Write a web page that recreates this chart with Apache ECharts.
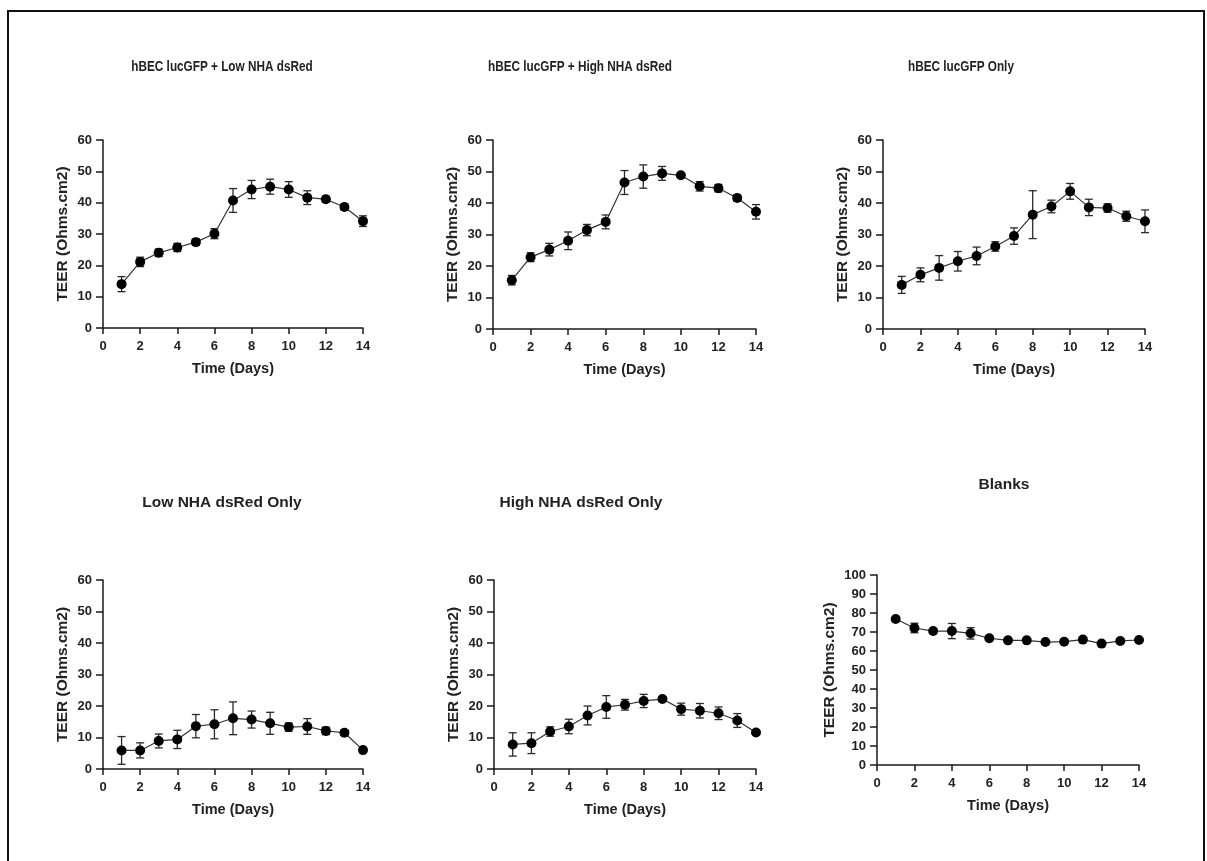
<!DOCTYPE html>
<html>
<head>
<meta charset="utf-8">
<script src="https://cdn.jsdelivr.net/npm/echarts@6/dist/echarts.min.js"></script>
<style>
html,body{margin:0;padding:0;background:#fff;}
#chart{width:1207px;height:861px;}
</style>
</head>
<body>
<div id="chart"></div>
<script>
const days = [1,2,3,4,5,6,7,8,9,10,11,12,13,14];
const titles = ['hBEC lucGFP + Low NHA dsRed','hBEC lucGFP + High NHA dsRed','hBEC lucGFP Only','Low NHA dsRed Only','High NHA dsRed Only','Blanks'];
const xTicks = [0,2,4,6,8,10,12,14];
const yMax = [60,60,60,60,60,100];

const lowCoMean  = [14.0,21.1,24.0,25.7,27.4,30.1,40.7,44.2,45.1,44.2,41.6,41.1,38.6,34.1];
const lowCoErr   = [2.4,1.5,1.2,1.3,1.0,1.6,3.8,2.9,2.4,2.5,2.2,1.0,1.0,1.7];
const highCoMean = [15.5,22.8,25.2,28.0,31.4,34.0,46.5,48.4,49.4,48.8,45.3,44.7,41.6,37.2];
const highCoErr  = [1.5,1.4,2.0,2.8,1.8,2.2,3.8,3.7,2.2,0.5,1.5,1.2,1.0,2.3];
const hbecMean   = [14.0,17.2,19.4,21.5,23.2,26.2,29.5,36.3,38.9,43.7,38.6,38.4,35.8,34.2];
const hbecErr    = [2.7,2.2,3.9,3.1,2.8,1.5,2.6,7.6,2.0,2.5,2.6,1.3,1.6,3.6];
const lowMean    = [5.9,5.9,8.9,9.4,13.6,14.2,16.1,15.7,14.5,13.3,13.5,12.1,11.5,6.0];
const lowErr     = [4.4,2.4,2.2,2.9,3.7,4.6,5.2,2.7,3.5,1.3,2.5,1.2,0.8,0.3];
const highMean   = [7.8,8.2,11.9,13.5,17.0,19.7,20.4,21.6,22.2,19.0,18.5,17.7,15.4,11.6];
const highErr    = [3.7,3.3,1.5,2.3,3.0,3.6,1.7,2.1,0.5,1.9,2.3,2.0,2.2,0.5];
const blankMean  = [76.8,72.1,70.5,70.5,69.3,66.7,65.6,65.6,64.7,64.9,66.0,63.9,65.3,65.8];
const blankErr   = [0.8,2.5,1.0,4.0,3.0,0.8,0.6,0.6,0.6,0.6,0.6,0.6,0.6,0.6];

const means = [lowCoMean, highCoMean, hbecMean, lowMean, highMean, blankMean];
const errs  = [lowCoErr, highCoErr, hbecErr, lowErr, highErr, blankErr];

const FONT = '"Liberation Sans", Arial, sans-serif';
const grids = [
  {left:103, top:140, width:260, height:188},
  {left:493, top:140, width:263, height:189},
  {left:883, top:140, width:262, height:189},
  {left:103, top:580, width:260, height:189},
  {left:494, top:580, width:262, height:189},
  {left:877, top:575, width:262, height:190}
];
const yNameGap = [32, 32, 32, 32, 32, 39];
// title placement: centre x, centre y, font size, horizontal squeeze
const titlePos = [
  {x:222, y:67, size:14, sx:0.84}, {x:580, y:67, size:14, sx:0.84}, {x:961, y:67, size:14, sx:0.84},
  {x:222, y:503, size:15.5, sx:1}, {x:581, y:503, size:15.5, sx:1}, {x:1004, y:485, size:15.5, sx:1}
];

const lineCol = '#1a1a1a';
const labelStyle = {color:'#222', fontFamily:FONT, fontWeight:'bold', fontSize:13};

const xAxes = [], yAxes = [], series = [], titleGraphics = [];
grids.forEach((g,i) => {
  xAxes.push({gridIndex:i, type:'value', min:0, max:14, interval:2,
    axisLine:{show:true, onZero:false, lineStyle:{color:lineCol, width:1.5}},
    axisTick:{show:true, inside:false, length:6, lineStyle:{color:lineCol, width:1.5}},
    axisLabel:Object.assign({margin:12}, labelStyle),
    splitLine:{show:false},
    name:'Time (Days)', nameLocation:'middle', nameGap:33, nameMoveOverlap:false,
    nameTextStyle:{color:'#222', fontFamily:FONT, fontWeight:'bold', fontSize:14.5}});
  yAxes.push({gridIndex:i, type:'value', min:0, max:yMax[i], interval:10,
    axisLine:{show:true, onZero:false, lineStyle:{color:lineCol, width:1.5}},
    axisTick:{show:true, inside:false, length:7, lineStyle:{color:lineCol, width:1.5}},
    axisLabel:Object.assign({margin:11}, labelStyle),
    splitLine:{show:false},
    name:'TEER (Ohms.cm2)', nameLocation:'middle', nameGap:yNameGap[i], nameMoveOverlap:false,
    nameTextStyle:{color:'#222', fontFamily:FONT, fontWeight:'bold', fontSize:15.5}});
  const tp = titlePos[i];
  titleGraphics.push({type:'text', x:tp.x, y:tp.y, scaleX:tp.sx, silent:true,
    style:{text:titles[i], fill:'#222', font:'bold ' + tp.size + 'px ' + FONT,
      textAlign:'center', textVerticalAlign:'middle', verticalAlign:'middle'}});
  const errData = days.map((d,k) => [d, means[i][k], errs[i][k]]);
  series.push({type:'custom', xAxisIndex:i, yAxisIndex:i, z:1, silent:true,
    encode:{x:0, y:1},
    data: errData,
    renderItem: function(params, api){
      const x = api.value(0), m = api.value(1), e = api.value(2);
      const t = api.coord([x, m + e]);
      const b = api.coord([x, m - e]);
      const w = 4;
      const st = {stroke:'#2a2a2a', lineWidth:1.3};
      return {type:'group', children:[
        {type:'line', shape:{x1:t[0], y1:t[1], x2:b[0], y2:b[1]}, style:st},
        {type:'line', shape:{x1:t[0]-w, y1:t[1], x2:t[0]+w, y2:t[1]}, style:st},
        {type:'line', shape:{x1:b[0]-w, y1:b[1], x2:b[0]+w, y2:b[1]}, style:st}
      ]};
    }});
  series.push({type:'line', xAxisIndex:i, yAxisIndex:i, z:3,
    data: days.map((d,k) => [d, means[i][k]]),
    symbol:'circle', symbolSize:10,
    itemStyle:{color:'#000'},
    lineStyle:{color:'#333', width:1.2}});
});

const chart = echarts.init(document.getElementById('chart'), null, {renderer:'canvas'});
chart.setOption({
  animation:false,
  backgroundColor:'#fff',
  grid: grids,
  xAxis: xAxes,
  yAxis: yAxes,
  series: series,
  graphic: [{type:'rect', shape:{x:8, y:11, width:1196, height:870},
    style:{fill:'none', stroke:'#111', lineWidth:2}, silent:true}].concat(titleGraphics)
});
</script>
</body>
</html>
